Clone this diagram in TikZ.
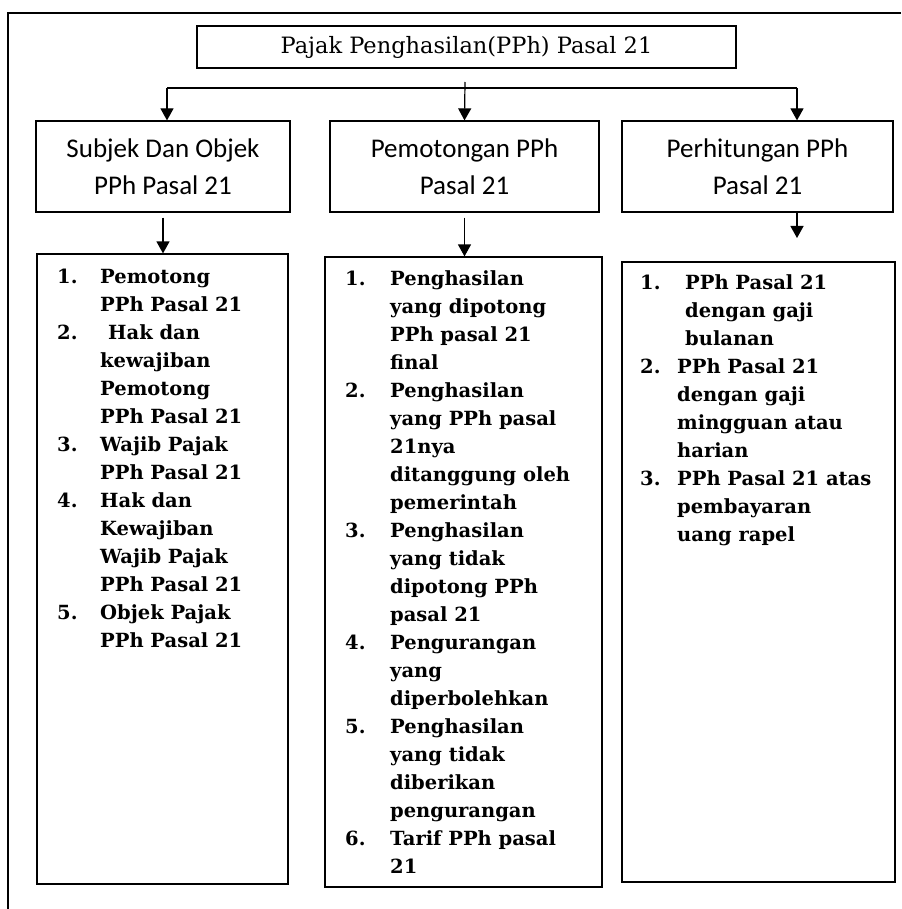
\documentclass[tikz,border=0pt]{standalone}
\usepackage{fontspec}
\setmainfont{DejaVu Serif}
\setsansfont{Carlito}
\usetikzlibrary{arrows.meta}

\begin{document}
\begin{tikzpicture}[x=1pt,y=-1pt,
    box/.style={draw, line width=1.2pt, inner sep=0pt},
    head/.style={box, minimum height=91pt, align=center, font=\sffamily\fontsize{27}{37}\selectfont},
    list/.style={anchor=north west, inner sep=0pt, font=\bfseries\fontsize{19.5}{28}\selectfont},
    arr/.style={-{Triangle[width=13pt,length=12pt]}, line width=1.2pt}]
    \useasboundingbox (0,0) rectangle (901,909);
    \draw[line width=1.2pt] (901,13) -- (8,13) -- (8,909);

    \node[box, minimum width=539pt, minimum height=42pt, font=\fontsize{22.5}{26}\selectfont] (pph) at (466.5,47) {Pajak Penghasilan(PPh) Pasal 21};

    \node[head, minimum width=254pt] (subjek) at (163,166.5) {Subjek Dan Objek\\PPh Pasal 21};
    \node[head, minimum width=269pt] (potong) at (464.5,166.5) {Pemotongan PPh\\Pasal 21};
    \node[head, minimum width=271pt] (hitung) at (757.5,166.5) {Perhitungan PPh\\Pasal 21};

    \node[box, minimum width=251pt, minimum height=630pt] (subjeklist) at (162.5,569) {};
    \node[box, minimum width=277pt, minimum height=630pt] (potonglist) at (463.5,572) {};
    \node[box, minimum width=273pt, minimum height=620pt] (hitunglist) at (758.5,572) {};

    \node[list] (subjektext) at (57,264) {\begin{tabular}{@{}p{43pt}@{}l@{}}
        1. & Pemotong\\
           & PPh Pasal 21\\
        2. & \hspace{8pt}Hak dan\\
           & kewajiban\\
           & Pemotong\\
           & PPh Pasal 21\\
        3. & Wajib Pajak\\
           & PPh Pasal 21\\
        4. & Hak dan\\
           & Kewajiban\\
           & Wajib Pajak\\
           & PPh Pasal 21\\
        5. & Objek Pajak\\
           & PPh Pasal 21
    \end{tabular}};
    \node[list] (potongtext) at (345,266) {\begin{tabular}{@{}p{45pt}@{}l@{}}
        1. & Penghasilan\\
           & yang dipotong\\
           & PPh pasal 21\\
           & final\\
        2. & Penghasilan\\
           & yang PPh pasal\\
           & 21nya\\
           & ditanggung oleh\\
           & pemerintah\\
        3. & Penghasilan\\
           & yang tidak\\
           & dipotong PPh\\
           & pasal 21\\
        4. & Pengurangan\\
           & yang\\
           & diperbolehkan\\
        5. & Penghasilan\\
           & yang tidak\\
           & diberikan\\
           & pengurangan\\
        6. & Tarif PPh pasal\\
           & 21
    \end{tabular}};
    \node[list] (hitungtext) at (640,270) {\begin{tabular}{@{}p{37pt}@{}l@{}}
        1. & \hspace{8pt}PPh Pasal 21\\
           & \hspace{8pt}dengan gaji\\
           & \hspace{8pt}bulanan\\
        2. & PPh Pasal 21\\
           & dengan gaji\\
           & mingguan atau\\
           & harian\\
        3. & PPh Pasal 21 atas\\
           & pembayaran\\
           & uang rapel
    \end{tabular}};

    \coordinate (split) at (465,82);
    \coordinate (leftbranch) at (167,88);
    \coordinate (rightbranch) at (797,88);
    \coordinate (hitungend) at (797,238);
    \draw[line width=1.2pt] (leftbranch) -- (rightbranch);
    \draw[arr] (split) -- (potong.north);
    \draw[arr] (leftbranch) -- (leftbranch |- subjek.north);
    \draw[arr] (rightbranch) -- (rightbranch |- hitung.north);

    \draw[arr, shorten <=5pt] (subjek.south) -- (subjek.south |- subjeklist.north);
    \draw[arr, shorten <=5pt] (potong.south) -- (potong.south |- potonglist.north);
    \draw[arr] (hitung.south -| hitungend) -- (hitungend);
\end{tikzpicture}
\end{document}
